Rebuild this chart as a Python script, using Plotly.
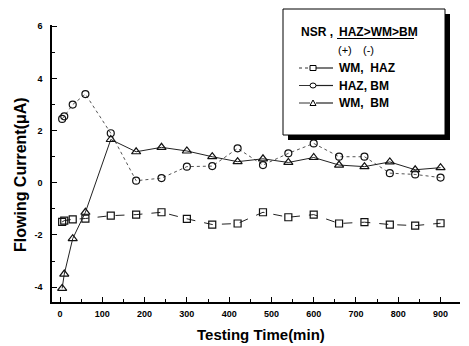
import plotly.graph_objects as go

# ---- data ----
time_min = [5, 10, 30, 60, 120, 180, 240, 300, 360, 420, 480, 540, 600, 660, 720, 780, 840, 900]
wm_haz = [-1.50, -1.45, -1.40, -1.37, -1.26, -1.22, -1.13, -1.38, -1.60, -1.56, -1.13, -1.32,
          -1.22, -1.56, -1.51, -1.60, -1.64, -1.55]
haz_bm = [2.45, 2.55, 3.00, 3.40, 1.90, 0.08, 0.18, 0.62, 0.64, 1.32, 0.68, 1.13,
          1.51, 1.00, 1.00, 0.37, 0.32, 0.20]
wm_bm = [-4.05, -3.50, -2.14, -1.13, 1.66, 1.19, 1.36, 1.22, 1.00, 0.81, 0.92, 0.78,
         0.97, 0.68, 0.62, 0.80, 0.50, 0.58]

x_ticks = [0, 100, 200, 300, 400, 500, 600, 700, 800, 900]
y_ticks = [-4, -2, 0, 2, 4, 6]

legend_rows = ["WM,  HAZ", "HAZ, BM", "WM,  BM"]

FONT = "Liberation Sans, Arial, sans-serif"

W, H = 469, 346
L, R, T, B = 52, 9, 25, 44
PW, PH = W - L - R, H - T - B


def px(x):
    return (x - L) / PW


def py(y):
    return (H - B - y) / PH


fig = go.Figure()

fig.add_trace(go.Scatter(
    x=time_min, y=wm_haz, mode="lines+markers", name="WM, HAZ",
    line=dict(color="#222", width=1, dash="dash"),
    marker=dict(symbol="square-open", size=7, color="#111", line=dict(width=1.2)),
))
fig.add_trace(go.Scatter(
    x=time_min, y=haz_bm, mode="lines+markers", name="HAZ, BM",
    line=dict(color="#555", width=1, dash="dot"),
    marker=dict(symbol="circle-open", size=7, color="#111", line=dict(width=1.2)),
))
fig.add_trace(go.Scatter(
    x=time_min, y=wm_bm, mode="lines+markers", name="WM, BM",
    line=dict(color="#222", width=1),
    marker=dict(symbol="triangle-up-open", size=8, color="#111", line=dict(width=1.2)),
))

shapes = []
annotations = []

# legend box with shadow
bx0, by0, bx1, by1 = 283, 9, 445, 135
shapes.append(dict(type="rect", xref="paper", yref="paper", layer="above",
                   x0=px(bx0 + 5), x1=px(bx1 + 5), y0=py(by0 + 5), y1=py(by1 + 5),
                   fillcolor="black", line=dict(width=0)))
shapes.append(dict(type="rect", xref="paper", yref="paper", layer="above",
                   x0=px(bx0), x1=px(bx1), y0=py(by0), y1=py(by1),
                   fillcolor="white", line=dict(color="black", width=1)))

tfont = dict(family=FONT, size=12, color="black", weight="bold")
annotations.append(dict(text="NSR ,", xref="paper", yref="paper", x=px(299), y=py(32),
                        xanchor="left", yanchor="middle", showarrow=False, font=tfont))
annotations.append(dict(text="HAZ>WM>BM", xref="paper", yref="paper", x=px(337), y=py(32),
                        xanchor="left", yanchor="middle", showarrow=False, font=tfont))
shapes.append(dict(type="line", xref="paper", yref="paper", layer="above",
                   x0=px(337), x1=px(414), y0=py(38.5), y1=py(38.5),
                   line=dict(color="black", width=1.2)))
annotations.append(dict(text="(+)", xref="paper", yref="paper", x=px(345), y=py(50),
                        xanchor="center", yanchor="middle", showarrow=False,
                        font=dict(family=FONT, size=11, color="black")))
annotations.append(dict(text="(-)", xref="paper", yref="paper", x=px(368), y=py(50),
                        xanchor="center", yanchor="middle", showarrow=False,
                        font=dict(family=FONT, size=11, color="black")))

row_y = [68, 85.5, 103]
for i, (lab, ry) in enumerate(zip(legend_rows, row_y)):
    annotations.append(dict(text=lab, xref="paper", yref="paper", x=px(337), y=py(ry),
                            xanchor="left", yanchor="middle", showarrow=False, font=tfont))
    mx = 313
    if i == 0:
        shapes.append(dict(type="line", xref="paper", yref="paper", layer="above",
                           x0=px(299), x1=px(mx - 3), y0=py(ry), y1=py(ry),
                           line=dict(color="#333", width=1, dash="dot")))
    else:
        shapes.append(dict(type="line", xref="paper", yref="paper", layer="above",
                           x0=px(299), x1=px(mx - 3), y0=py(ry), y1=py(ry),
                           line=dict(color="#333", width=1)))
    shapes.append(dict(type="line", xref="paper", yref="paper", layer="above",
                       x0=px(mx + 3), x1=px(333), y0=py(ry), y1=py(ry),
                       line=dict(color="#222", width=1.2)))
    if i == 0:
        shapes.append(dict(type="rect", xref="paper", yref="paper", layer="above",
                           x0=px(mx - 3), x1=px(mx + 3), y0=py(ry - 2.5), y1=py(ry + 2.5),
                           fillcolor="white", line=dict(color="black", width=1)))
    elif i == 1:
        shapes.append(dict(type="circle", xref="paper", yref="paper", layer="above",
                           x0=px(mx - 3), x1=px(mx + 3), y0=py(ry - 2.5), y1=py(ry + 2.5),
                           fillcolor="white", line=dict(color="black", width=1)))
    else:
        x0, x1, xm = px(mx - 3), px(mx + 3), px(mx)
        y0, y1 = py(ry + 2.5), py(ry - 3)
        shapes.append(dict(type="path", xref="paper", yref="paper", layer="above",
                           path=f"M {x0} {y0} L {x1} {y0} L {xm} {y1} Z",
                           fillcolor="white", line=dict(color="black", width=1)))

# axis titles
annotations.append(dict(text="Testing Time(min)", xref="paper", yref="paper",
                        x=px(261), y=py(334), xanchor="center", yanchor="middle",
                        showarrow=False,
                        font=dict(family=FONT, size=15, color="black", weight="bold")))
annotations.append(dict(text="Flowing Current(μA)", xref="paper", yref="paper",
                        x=px(21), y=py(175), xanchor="center", yanchor="middle",
                        textangle=-90, showarrow=False,
                        font=dict(family=FONT, size=16, color="black", weight="bold")))

axis_common = dict(
    showgrid=False, zeroline=False, showline=True, linecolor="black", linewidth=1.5,
    ticks="inside", ticklen=5, tickwidth=1.2, tickcolor="black",
    tickfont=dict(family=FONT, size=9, color="black", weight="bold"),
    mirror=False,
)

fig.update_layout(
    width=W, height=H,
    margin=dict(l=L, r=R, t=T, b=B),
    paper_bgcolor="white", plot_bgcolor="white",
    showlegend=False,
    xaxis=dict(range=[-19, 946], tickvals=x_ticks, ticktext=[str(v) for v in x_ticks],
               minor=dict(ticks="inside", ticklen=3, tickcolor="black", dtick=50, tick0=0),
               ticklabelstandoff=2, **axis_common),
    yaxis=dict(range=[-4.57, 6.05], tickvals=y_ticks, ticktext=[str(v) for v in y_ticks],
               minor=dict(ticks="inside", ticklen=3, tickcolor="black", dtick=1, tick0=0),
               ticklabelstandoff=6, **axis_common),
    shapes=shapes,
    annotations=annotations,
)

fig.write_html("out.html")
